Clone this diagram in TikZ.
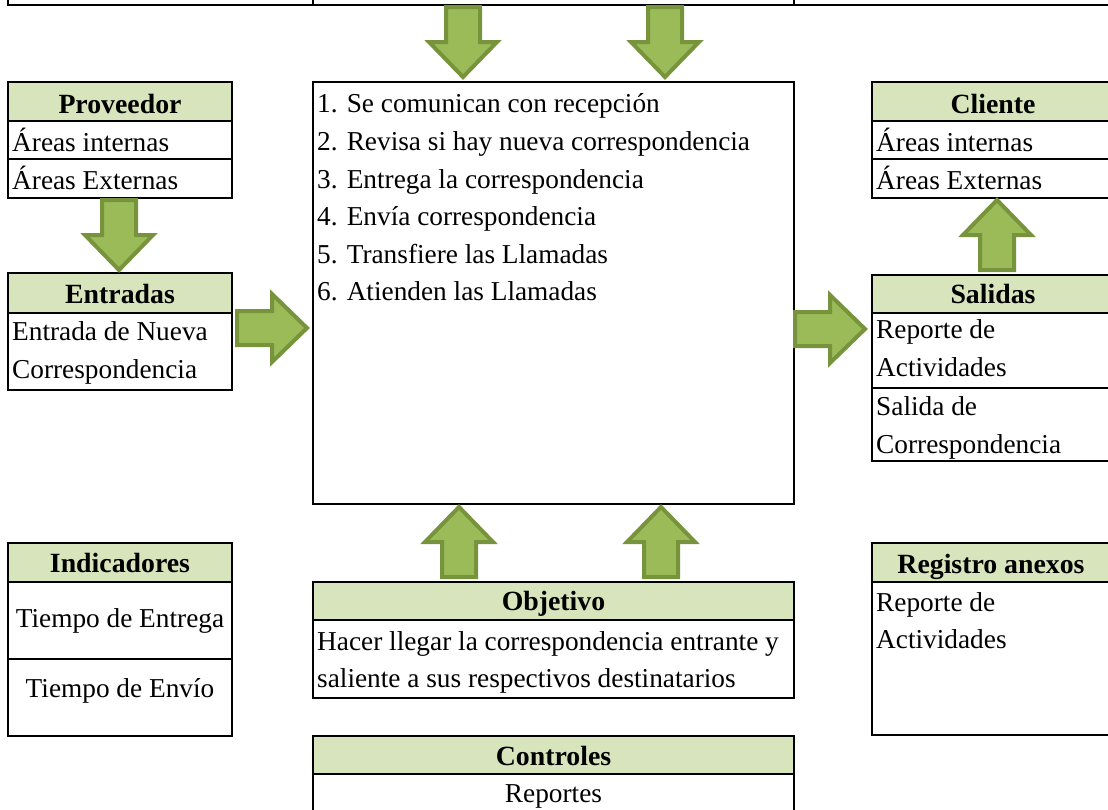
\documentclass[tikz,border=0pt]{standalone}
\usepackage{fontspec}
\setmainfont{Liberation Serif}
\definecolor{hdr}{HTML}{D8E4BC}
\definecolor{afill}{HTML}{9BBB59}
\definecolor{aline}{HTML}{77933C}
\tikzset{
  boxline/.style={draw=black, line width=2pt},
  cellbox/.style={boxline, anchor=north west, inner sep=0pt, outer sep=0pt},
  hdrbox/.style={cellbox, fill=hdr},
  txt/.style={inner sep=0pt, anchor=base west, font=\fontsize{27.3}{32}\selectfont},
  ctxt/.style={inner sep=0pt, anchor=base, font=\fontsize{27.3}{32}\selectfont},
  htxt/.style={inner sep=0pt, anchor=base, font=\fontsize{27.8}{32}\selectfont\bfseries},
  blockarrow/.pic={\draw[fill=afill, draw=aline, line width=4pt, line join=miter]
     (0,0) -- (-35,-34) -- (-35,-17) -- (-70,-17) -- (-70,17) -- (-35,17) -- (-35,34) -- cycle;}
}
\newcommand\mkbox[5]{\node[cellbox, minimum width=#3pt, minimum height=#4pt] (#5) at (#1,#2) {};}
\newcommand\mkhdr[5]{\node[hdrbox, minimum width=#3pt, minimum height=#4pt] (#5) at (#1,#2) {};}
\begin{document}
\begin{tikzpicture}[x=1pt,y=-1pt]
\useasboundingbox (0,0) rectangle (1108,809);
\clip (0,0) rectangle (1108,809);

% top strip (boxes cut off above)
\draw[boxline] (8,-10) rectangle (313,5);
\draw[boxline] (313,-10) rectangle (794,5);
\draw[boxline] (794,-10) rectangle (1120,5);

% left column
\mkbox{8}{82}{224}{116}{prov}
\mkhdr{8}{82}{224}{39}{provh}
\draw[boxline] (8,159) -- (232,159);
\mkbox{8}{273}{224}{117}{entr}
\mkhdr{8}{273}{224}{40}{entrh}
\mkbox{8}{543}{224}{193}{indi}
\mkhdr{8}{543}{224}{39}{indih}
\draw[boxline] (8,659) -- (232,659);

% centre column
\mkbox{313}{82}{481}{422}{main}
\mkbox{313}{582}{481}{116}{obj}
\mkhdr{313}{582}{481}{38}{objh}
\mkbox{313}{736}{481}{80}{ctrl}
\mkhdr{313}{736}{481}{38}{ctrlh}

% right column
\mkbox{872}{82}{242}{116}{cli}
\mkhdr{872}{82}{242}{39}{clih}
\draw[boxline] (872,159) -- (1114,159);
\mkbox{872}{275}{242}{186}{sal}
\mkhdr{872}{275}{242}{38}{salh}
\draw[boxline] (872,388) -- (1114,388);
\mkbox{872}{543}{242}{192}{reg}
\mkhdr{872}{543}{242}{39}{regh}

% block arrows
\pic[rotate=-90] at (463,77) {blockarrow};
\pic[rotate=-90] at (665,77) {blockarrow};
\pic[rotate=-90] at (119,270) {blockarrow};
\pic at (307,328) {blockarrow};
\pic at (865,329) {blockarrow};
\pic[rotate=90] at (997,200) {blockarrow};
\pic[rotate=90] at (459,507) {blockarrow};
\pic[rotate=90] at (661,507) {blockarrow};

% texts left
\node[htxt] (tprov) at (120,113) {Proveedor};
\node[txt] (tprov1) at (12,151) {Áreas internas};
\node[txt] (tprov2) at (12,189) {Áreas Externas};
\node[htxt] (tentr) at (120,303) {Entradas};
\node[txt] (tentr1) at (12,340) {Entrada de Nueva};
\node[txt] (tentr2) at (12,378) {Correspondencia};
\node[htxt] (tindi) at (120,572) {Indicadores};
\node[ctxt] (tindi1) at (120,627) {Tiempo de Entrega};
\node[ctxt] (tindi2) at (120,697) {Tiempo de Envío};

% texts centre
\node[txt] (m1) at (317,112) {1. Se comunican con recepción};
\node[txt] (m2) at (317,150) {2. Revisa si hay nueva correspondencia};
\node[txt] (m3) at (317,188) {3. Entrega la correspondencia};
\node[txt] (m4) at (317,225) {4. Envía correspondencia};
\node[txt] (m5) at (317,263) {5. Transfiere las Llamadas};
\node[txt] (m6) at (317,300) {6. Atienden las Llamadas};
\node[htxt] (tobj) at (553.5,610) {Objetivo};
\node[txt] (tobj1) at (317,650) {Hacer llegar la correspondencia entrante y};
\node[txt] (tobj2) at (317,687) {saliente a sus respectivos destinatarios};
\node[htxt] (tctrl) at (553.5,765) {Controles};
\node[ctxt] (tctrl1) at (553.5,802) {Reportes};

% texts right
\node[htxt] (tcli) at (993,113) {Cliente};
\node[txt] (tcli1) at (876,151) {Áreas internas};
\node[txt] (tcli2) at (876,189) {Áreas Externas};
\node[htxt] (tsal) at (993,303) {Salidas};
\node[txt] (tsal1) at (876,338) {Reporte de};
\node[txt] (tsal2) at (876,376) {Actividades};
\node[txt] (tsal3) at (876,415) {Salida de};
\node[txt] (tsal4) at (876,453) {Correspondencia};
\node[htxt] (treg) at (991,573) {Registro anexos};
\node[txt] (treg1) at (876,611) {Reporte de};
\node[txt] (treg2) at (876,648) {Actividades};
\end{tikzpicture}
\end{document}
